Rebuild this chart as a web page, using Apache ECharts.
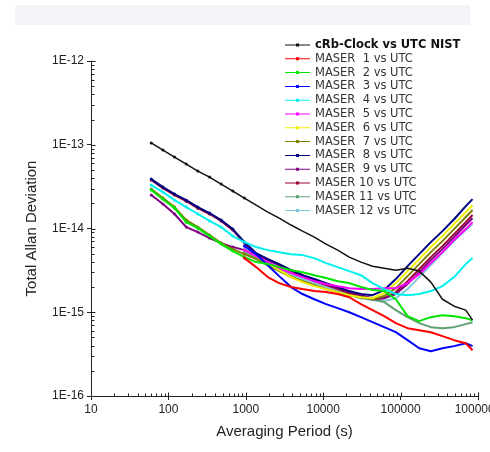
<!DOCTYPE html>
<html><head><meta charset="utf-8">
<script src="https://cdn.jsdelivr.net/npm/echarts@6/dist/echarts.min.js"></script>
<style>html,body{margin:0;padding:0;background:#fff}#c{width:490px;height:452px}</style>
</head><body><div id="c"></div>
<script>
// Averaging periods (s)
var tau = [60, 85, 120, 170, 240, 340, 480, 680, 960, 1360, 1920, 2700, 3840, 5400, 7680, 10900, 15400, 21700, 30700, 43400, 61400, 86800, 123000, 174000, 246000, 347000, 491000, 695000, 850000];
var yTicks = ['1E-16','1E-15','1E-14','1E-13','1E-12'];
var xTicks = ['10','100','1000','10000','100000','1000000'];
var xMajor = [10, 100, 1000, 10000, 100000, 1000000];
var yMajor = [1e-16, 1e-15, 1e-14, 1e-13, 1e-12];
var minorMult = [2, 3, 4, 5, 6, 7, 8, 9];
var names = ['cRb-Clock vs UTC NIST','MASER  1 vs UTC','MASER  2 vs UTC','MASER  3 vs UTC','MASER  4 vs UTC','MASER  5 vs UTC','MASER  6 vs UTC','MASER  7 vs UTC','MASER  8 vs UTC','MASER  9 vs UTC','MASER 10 vs UTC','MASER 11 vs UTC','MASER 12 vs UTC'];
var N = null;
var cRb = [1.05e-13, 8.64e-14, 7.13e-14, 5.88e-14, 4.85e-14, 4.11e-14, 3.39e-14, 2.80e-14, 2.31e-14, 1.90e-14, 1.57e-14, 1.33e-14, 1.10e-14, 9.31e-15, 7.89e-15, 6.51e-15, 5.52e-15, 4.55e-15, 3.97e-15, 3.55e-15, 3.36e-15, 3.18e-15, 3.36e-15, 3.10e-15, 2.29e-15, 1.43e-15, 1.18e-15, 1.06e-15, 8.04e-16];
var m1 = [N,N,N,N,N,N,N,N, 4.43e-15, 3.46e-15, 2.63e-15, 2.23e-15, 2.00e-15, 1.89e-15, 1.79e-15, 1.74e-15, 1.65e-15, 1.51e-15, 1.25e-15, 1.06e-15, 8.98e-16, 7.41e-16, 6.46e-16, 6.11e-16, 5.78e-16, 5.18e-16, 4.64e-16, 4.27e-16, 3.52e-16];
var m2 = [2.88e-14, 2.24e-14, 1.75e-14, 1.19e-14, 1.01e-14, 8.11e-15, 6.51e-15, 5.37e-15, 4.55e-15, 3.97e-15, 3.76e-15, 3.46e-15, 3.18e-15, 3.01e-15, 2.77e-15, 2.56e-15, 2.35e-15, 2.23e-15, 2.00e-15, 1.84e-15, 1.79e-15, 1.43e-15, 8.98e-16, 7.83e-16, 8.74e-16, 9.23e-16, 8.98e-16, 8.50e-16, 8.04e-16];
var m3 = [N,N,N,N,N,N,N,N, 6.16e-15, 4.94e-15, 3.65e-15, 2.70e-15, 2.00e-15, 1.65e-15, 1.43e-15, 1.25e-15, 1.12e-15, 1.00e-15, 8.74e-16, 7.61e-16, 6.64e-16, 5.78e-16, 4.64e-16, 3.72e-16, 3.43e-16, 3.72e-16, 3.94e-16, 4.27e-16, 3.94e-16];
var m4 = [3.30e-14, 2.72e-14, 2.18e-14, 1.80e-14, 1.49e-14, 1.23e-14, 1.04e-14, 8.11e-15, 6.88e-15, 6.00e-15, 5.52e-15, 5.22e-15, 4.94e-15, 4.81e-15, 4.43e-15, 3.86e-15, 3.46e-15, 3.10e-15, 2.77e-15, 2.23e-15, 1.89e-15, 1.65e-15, 1.60e-15, 1.65e-15, 1.79e-15, 2.05e-15, 2.63e-15, 3.76e-15, 4.43e-15];
var m5 = [N,N,N,N,N,N,N,N, 5.52e-15, 4.68e-15, 3.97e-15, 3.36e-15, 2.93e-15, 2.63e-15, 2.35e-15, 2.17e-15, 2.05e-15, 1.94e-15, 1.89e-15, 1.89e-15, 1.94e-15, 1.94e-15, 2.23e-15, 2.85e-15, 3.86e-15, 5.22e-15, 7.27e-15, 9.84e-15, 1.19e-14];
var m6 = [N,N,N,N,N,N,N,N, 5.52e-15, 4.68e-15, 3.86e-15, 3.18e-15, 2.63e-15, 2.29e-15, 2.05e-15, 1.89e-15, 1.74e-15, 1.60e-15, 1.51e-15, 1.47e-15, 1.69e-15, 2.23e-15, 3.10e-15, 4.31e-15, 6.00e-15, 8.11e-15, 1.13e-14, 1.57e-14, 1.90e-14];
var m7 = [2.96e-14, 2.31e-14, 1.80e-14, 1.26e-14, 1.04e-14, 8.34e-15, 6.69e-15, 5.67e-15, 4.94e-15, 4.31e-15, 3.65e-15, 3.10e-15, 2.63e-15, 2.35e-15, 2.11e-15, 1.89e-15, 1.74e-15, 1.60e-15, 1.51e-15, 1.43e-15, 1.56e-15, 1.94e-15, 2.70e-15, 3.76e-15, 5.22e-15, 7.07e-15, 9.84e-15, 1.37e-14, 1.66e-14];
var m8 = [3.89e-14, 3.12e-14, 2.58e-14, 2.18e-14, 1.80e-14, 1.53e-14, 1.26e-14, 9.84e-15, 6.88e-15, 5.08e-15, 4.31e-15, 3.76e-15, 3.18e-15, 2.77e-15, 2.49e-15, 2.23e-15, 2.00e-15, 1.79e-15, 1.65e-15, 1.60e-15, 1.84e-15, 2.49e-15, 3.55e-15, 4.94e-15, 6.88e-15, 9.31e-15, 1.29e-14, 1.85e-14, 2.24e-14];
var m9 = [2.51e-14, 1.96e-14, 1.49e-14, 1.04e-14, 9.06e-15, 7.68e-15, 6.69e-15, 6.00e-15, 5.52e-15, 4.81e-15, 4.19e-15, 3.65e-15, 3.18e-15, 2.77e-15, 2.42e-15, 2.17e-15, 1.94e-15, 1.74e-15, 1.60e-15, 1.47e-15, 1.47e-15, 1.65e-15, 2.17e-15, 3.01e-15, 4.19e-15, 5.67e-15, 7.89e-15, 1.10e-14, 1.33e-14];
var m10 = [3.79e-14, 3.04e-14, 2.51e-14, 2.12e-14, 1.75e-14, 1.49e-14, 1.23e-14, 9.57e-15, 6.69e-15, 4.94e-15, 4.31e-15, 3.65e-15, 3.10e-15, 2.70e-15, 2.35e-15, 2.11e-15, 1.89e-15, 1.69e-15, 1.56e-15, 1.43e-15, 1.47e-15, 1.74e-15, 2.35e-15, 3.27e-15, 4.55e-15, 6.16e-15, 8.57e-15, 1.19e-14, 1.45e-14];
var m11 = [N,N,N,N,N,N,N,N, 5.22e-15, 4.43e-15, 3.76e-15, 3.18e-15, 2.70e-15, 2.35e-15, 2.11e-15, 1.89e-15, 1.74e-15, 1.60e-15, 1.47e-15, 1.43e-15, 1.32e-15, 1.06e-15, 8.74e-16, 7.41e-16, 6.64e-16, 6.46e-16, 6.64e-16, 7.21e-16, 7.61e-16];
var m12 = [N,N,N,N,N,N,N,N, 5.67e-15, 4.81e-15, 3.97e-15, 3.36e-15, 2.85e-15, 2.49e-15, 2.23e-15, 2.00e-15, 1.79e-15, 1.65e-15, 1.51e-15, 1.39e-15, 1.36e-15, 1.47e-15, 1.89e-15, 2.63e-15, 3.65e-15, 5.08e-15, 7.07e-15, 9.57e-15, 1.13e-14];

var seriesVals = [cRb, m1, m2, m3, m4, m5, m6, m7, m8, m9, m10, m11, m12];
var colors = ['#111111','#ff0000','#00e600','#0000ff','#00f0f0','#ff00ff','#f0f000','#808000','#000080','#800080','#990033','#5f9f70','#7fc8dc'];

var chart = echarts.init(document.getElementById('c'), null, {renderer:'canvas'});
var series = seriesVals.map(function(arr, k){
  var d = [];
  tau.forEach(function(t,i){ if (arr[i] !== null) d.push([t, arr[i]]); });
  return {
    name: names[k], type: 'line', data: d,
    symbol: 'circle',
    symbolSize: function(v){ return v[0] < 1200 ? 3 : 0; },
    showSymbol: true,
    lineStyle: {width: k === 0 ? 1.5 : 2, color: colors[k]},
    itemStyle: {color: colors[k]},
    z: 20 - k,
    animation: false
  };
});

// tick decorations drawn through the axis scales
function tickSeries(data, dir, len){
  return {
    type: 'custom', silent: true, clip: false, z: 30, animation: false,
    data: data,
    renderItem: function(params, api){
      var p = api.coord([api.value(0), api.value(1)]);
      var x = Math.round(p[0]) + 0.5, y = Math.round(p[1]) + 0.5;
      return {type: 'line',
        shape: dir === 'x' ? {x1: x, y1: y, x2: x, y2: y - len} : {x1: x, y1: y, x2: x + len, y2: y},
        style: {stroke: '#222', lineWidth: 1}};
    }
  };
}
var xMinorData = [], yMinorData = [], xMajorData = [], yMajorData = [];
xMajor.forEach(function(v, i){ xMajorData.push([v, yMajor[0]]); if (i < xMajor.length - 1) minorMult.forEach(function(m){ xMinorData.push([v*m, yMajor[0]]); }); });
yMajor.forEach(function(v, i){ yMajorData.push([xMajor[0], v]); if (i < yMajor.length - 1) minorMult.forEach(function(m){ yMinorData.push([xMajor[0], v*m]); }); });
series.push(tickSeries(xMinorData, 'x', 3));
series.push(tickSeries(xMajorData, 'x', 4));
series.push(tickSeries(yMinorData, 'y', 3));
series.push(tickSeries(yMajorData, 'y', 4));

chart.setOption({
  animation: false,
  backgroundColor: '#ffffff',
  graphic: [{type:'rect', shape:{x:15, y:5, width:455, height:20}, style:{fill:'#f2f4f7'}, z:-1}],
  grid: {left: 91, right: 12, top: 61, bottom: 56, containLabel: false, outerBoundsMode: 'none'},
  legend: {
    orient: 'vertical', left: 280, top: 34, itemWidth: 25, itemHeight: 10, itemGap: 1.8,
    data: names.map(function(n,k){ return {name:n, textStyle: k===0 ? {fontWeight:'bold', color:'#111'} : {}}; }),
    textStyle: {fontFamily: 'DejaVu Sans', fontSize: 11.5, color: '#333'},
    icon: 'path://M0,4.5L11,4.5L11,3.5L14,3.5L14,4.5L25,4.5L25,5.5L14,5.5L14,6.5L11,6.5L11,5.5L0,5.5Z'
  },
  xAxis: {
    type: 'log', logBase: 10, min: 10, max: 1000000,
    name: 'Averaging Period (s)', nameLocation: 'middle', nameGap: 28,
    nameTextStyle: {fontFamily: 'Liberation Sans', fontSize: 15, color: '#222'},
    axisLine: {show: true, lineStyle: {color: '#222', width: 1}},
    axisTick: {show: true, inside: false, length: 4, lineStyle: {color: '#222'}},
    minorTick: {show: false},
    splitLine: {show: false},
    axisLabel: {fontFamily: 'Liberation Sans', fontSize: 12, color: '#222', margin: 8, hideOverlap: false,
      formatter: function(v){ var i = Math.round(Math.log10(v)) - 1; return xTicks[i] || ''; }}
  },
  yAxis: {
    type: 'log', logBase: 10, min: 1e-16, max: 1e-12,
    name: 'Total Allan Deviation', nameLocation: 'middle', nameGap: 52, nameRotate: 90,
    nameTextStyle: {fontFamily: 'Liberation Sans', fontSize: 15, color: '#222'},
    axisLine: {show: true, lineStyle: {color: '#222', width: 1}},
    axisTick: {show: true, inside: false, length: 4, lineStyle: {color: '#222'}},
    minorTick: {show: false},
    splitLine: {show: false},
    axisLabel: {fontFamily: 'Liberation Sans', fontSize: 12, color: '#222', margin: 7,
      formatter: function(v){ var i = Math.round(Math.log10(v)) + 16; return yTicks[i] || ''; }}
  },
  series: series
});
</script></body></html>
